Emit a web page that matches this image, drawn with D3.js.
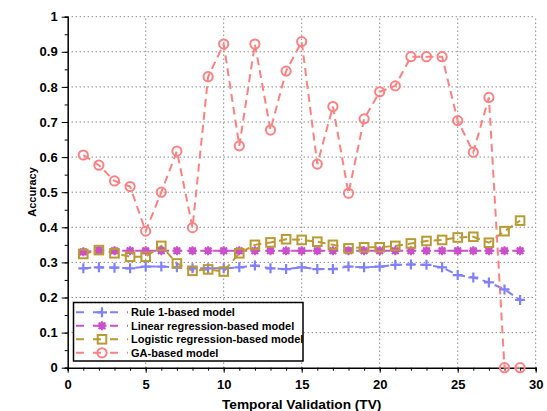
<!DOCTYPE html>
<html><head><meta charset="utf-8">
<script src="https://cdn.jsdelivr.net/npm/d3@7"></script>
<style>body{margin:0;background:#fff}svg{display:block}text{font-family:"Liberation Sans",Arial,sans-serif;font-weight:bold}</style>
</head><body>
<svg id="c" width="547" height="411"></svg>
<script>
const tv = d3.range(1, 30);
const rule1 = [0.283,0.286,0.285,0.283,0.288,0.288,0.286,0.283,0.283,0.283,0.286,0.291,0.283,0.281,0.286,0.281,0.281,0.288,0.286,0.288,0.293,0.294,0.293,0.286,0.264,0.257,0.243,0.223,0.193];
const linear = [0.330,0.334,0.333,0.333,0.333,0.333,0.333,0.333,0.333,0.333,0.333,0.333,0.333,0.333,0.333,0.333,0.333,0.333,0.333,0.333,0.333,0.333,0.333,0.333,0.333,0.333,0.333,0.333,0.333];
const logistic = [0.324,0.335,0.326,0.316,0.316,0.347,0.297,0.276,0.280,0.274,0.326,0.350,0.357,0.366,0.364,0.359,0.350,0.340,0.343,0.343,0.347,0.354,0.361,0.364,0.371,0.373,0.356,0.389,0.419];
const ga = [0.606,0.577,0.532,0.516,0.389,0.500,0.617,0.399,0.829,0.922,0.632,0.922,0.677,0.845,0.929,0.580,0.744,0.497,0.709,0.786,0.803,0.886,0.886,0.886,0.704,0.614,0.770,0,0];
const seriesNames = ["Rule 1-based model","Linear regression-based model","Logistic regression-based model","GA-based model"];
const xTicks = [0,5,10,15,20,25,30];
const yTicks = [0,0.1,0.2,0.3,0.4,0.5,0.6,0.7,0.8,0.9,1];
const yTickLabels = ["0","0.1","0.2","0.3","0.4","0.5","0.6","0.7","0.8","0.9","1"];

const colors = ["#8080ff","#cc4fcc","#bb9a33","#ff8080"];
const markers = ["plus","asterisk","square","circle"];
const data = [rule1, linear, logistic, ga];

const svg = d3.select("#c");
const x = d3.scaleLinear().domain([0,30]).range([67.7,535.7]);
const y = d3.scaleLinear().domain([0,1]).range([367.7,16.7]);

// grid
const g = svg.append("g");
g.selectAll(".gx").data(xTicks.slice(1)).join("line")
  .attr("x1",d=>x(d)).attr("x2",d=>x(d)).attr("y1",y(0)).attr("y2",y(1))
  .attr("stroke","#555").attr("stroke-width",1).attr("stroke-dasharray","1,3");
g.selectAll(".gy").data(yTicks.slice(1)).join("line")
  .attr("y1",d=>y(d)).attr("y2",d=>y(d)).attr("x1",x(0)).attr("x2",x(30))
  .attr("stroke","#555").attr("stroke-width",1).attr("stroke-dasharray","1,3");

// axes
const ax = svg.append("g").attr("transform",`translate(0,${y(0)})`)
  .call(d3.axisBottom(x).tickValues(d3.range(0,31)).tickSize(3).tickFormat(""));
const ax2 = svg.append("g").attr("transform",`translate(0,${y(0)})`)
  .call(d3.axisBottom(x).tickValues(xTicks).tickSize(5).tickPadding(7).tickFormat(d3.format("d")));
const ay = svg.append("g").attr("transform",`translate(${x(0)},0)`)
  .call(d3.axisLeft(y).tickValues(d3.range(0,21).map(i=>i*0.05)).tickSize(3).tickFormat(""));
const ay2 = svg.append("g").attr("transform",`translate(${x(0)},0)`)
  .call(d3.axisLeft(y).tickValues(yTicks).tickSize(6).tickPadding(4).tickFormat((d,i)=>yTickLabels[i]));
[ax,ax2,ay,ay2].forEach(a=>{
  a.selectAll("path").attr("stroke","#000").attr("stroke-width",1.5);
  a.selectAll("line").attr("stroke","#000").attr("stroke-width",1);
  a.selectAll("text").attr("font-size",13).attr("fill","#000")
   .attr("font-family","'Liberation Sans',Arial,sans-serif").attr("font-weight","bold");
});
ax2.selectAll("path").remove(); ay2.selectAll("path").remove();

// titles
svg.append("text").attr("x",301.7).attr("y",409).attr("text-anchor","middle")
  .attr("font-size",13.7).text("Temporal Validation (TV)");
svg.append("text").attr("transform","translate(36,192) rotate(-90)").attr("text-anchor","middle")
  .attr("font-size",11).text("Accuracy");

function drawMarker(sel, type, color){
  if(type==="plus"){
    sel.append("path").attr("d","M-5,0H5M0,-5V5").attr("stroke",color).attr("stroke-width",2.2).attr("fill","none");
  } else if(type==="asterisk"){
    sel.append("circle").attr("r",3.6).attr("fill",color);
    sel.append("path").attr("d","M-4.5,0H4.5M0,-4.5V4.5M-3.3,-3.3L3.3,3.3M-3.3,3.3L3.3,-3.3").attr("stroke",color).attr("stroke-width",2).attr("fill","none");
  } else if(type==="square"){
    sel.append("rect").attr("x",-4.3).attr("y",-4.3).attr("width",8.6).attr("height",8.6)
      .attr("stroke",color).attr("stroke-width",2).attr("fill","none");
  } else {
    sel.append("circle").attr("r",4.6).attr("stroke",color).attr("stroke-width",2).attr("fill","none");
  }
}

const line = d3.line().x((d,i)=>x(tv[i])).y(d=>y(d));
data.forEach((vals,k)=>{
  svg.append("path").datum(vals).attr("d",line).attr("fill","none")
    .attr("stroke",colors[k]).attr("stroke-width",2).attr("stroke-dasharray","8,5");
});
data.forEach((vals,k)=>{
  const mg = svg.append("g");
  vals.forEach((v,i)=>{
    drawMarker(mg.append("g").attr("transform",`translate(${x(tv[i])},${y(v)})`), markers[k], colors[k]);
  });
});

// legend
const lg = svg.append("g");
lg.append("rect").attr("x",73.5).attr("y",302.5).attr("width",229.5).attr("height",58.5)
  .attr("fill","#fff").attr("stroke","#000").attr("stroke-width",1.5);
seriesNames.forEach((name,k)=>{
  const yy = 312.3 + k*13.5;
  lg.append("line").attr("x1",76).attr("x2",128).attr("y1",yy).attr("y2",yy)
    .attr("stroke",colors[k]).attr("stroke-width",2).attr("stroke-dasharray","8,9");
  drawMarker(lg.append("g").attr("transform",`translate(102,${yy})`), markers[k], colors[k]);
  lg.append("text").attr("x",131).attr("y",yy+4).attr("font-size",11).attr("fill","#000").text(name);
});
</script>
</body></html>
